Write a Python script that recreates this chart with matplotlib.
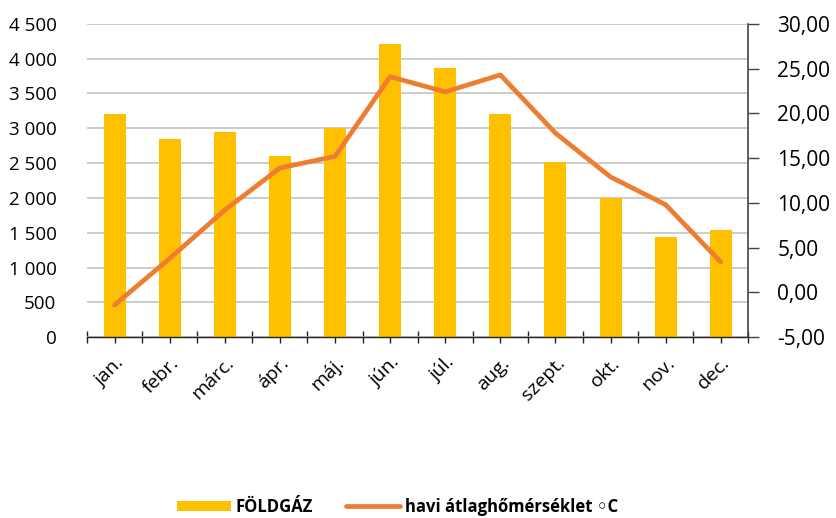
import numpy as np
import matplotlib.pyplot as plt
from matplotlib.ticker import FixedLocator, FuncFormatter, MultipleLocator
from matplotlib.lines import Line2D
from matplotlib.patches import Patch

# Havi földgázfogyasztás és átlaghőmérséklet
months = ['jan.', 'febr.', 'márc.', 'ápr.', 'máj.', 'jún.',
          'júl.', 'aug.', 'szept.', 'okt.', 'nov.', 'dec.']
gas = [3200, 2850, 2950, 2600, 3000, 4210, 3870, 3200, 2520, 2000, 1440, 1540]
temp = [-1.4, 3.8, 9.2, 13.9, 15.2, 24.1, 22.4, 24.3, 17.8, 12.9, 9.8, 3.4]

BAR_COLOR = '#FFC000'
LINE_COLOR = '#ED7D31'

plt.rcParams['font.family'] = ['Open Sans', 'DejaVu Sans']

fig = plt.figure(figsize=(8.37, 5.18), dpi=100)
ax = fig.add_axes([0.104, 0.349, 0.79, 0.605])
x = np.arange(len(months))

ax.bar(x, gas, width=0.4, color=BAR_COLOR, zorder=2)
ax.set_ylim(0, 4500)
ax.set_xlim(-0.5, len(months) - 0.5)
ax.yaxis.set_major_locator(MultipleLocator(500))
ax.yaxis.set_major_formatter(FuncFormatter(lambda v, p: f"{int(v):,}".replace(',', ' ')))
ax.grid(axis='y', color='#BFBFBF', linewidth=1.1, zorder=0)
ax.set_axisbelow(True)
ax.tick_params(axis='y', length=0, labelsize=13.5, pad=22)

# x ticks at category centres and boundaries
ax.set_xticks(x)
ax.set_xticklabels(months, rotation=45, ha='right', rotation_mode='anchor', fontsize=14)
ax.xaxis.set_minor_locator(FixedLocator(np.arange(-0.5, len(months), 1)))
ax.tick_params(axis='x', which='both', direction='inout', length=8, width=1, color='#222222', pad=8)

for s in ['left', 'top', 'right']:
    ax.spines[s].set_visible(False)
ax.spines['bottom'].set_color('#222222')
ax.spines['bottom'].set_linewidth(1)

ax2 = ax.twinx()
ax2.plot(x, temp, color=LINE_COLOR, linewidth=3.4, solid_capstyle='round',
         solid_joinstyle='round', zorder=3)
ax2.set_ylim(-5, 30)
ax2.yaxis.set_major_locator(MultipleLocator(5))
ax2.yaxis.set_major_formatter(FuncFormatter(lambda v, p: f"{v:.2f}".replace('.', ',')))
ax2.tick_params(axis='y', direction='out', length=8, width=1, color='#444444',
                labelsize=15, pad=13)
for s in ['left', 'top', 'bottom']:
    ax2.spines[s].set_visible(False)
ax2.spines['right'].set_color('#444444')
ax2.spines['right'].set_linewidth(1.2)

handles = [Patch(facecolor=BAR_COLOR, edgecolor='none'),
           Line2D([0], [0], color=LINE_COLOR, linewidth=3.4, solid_capstyle='round')]
fig.legend(handles, ['FÖLDGÁZ', 'havi átlaghőmérséklet ◦C'], loc='lower center',
           bbox_to_anchor=(0.475, -0.025), ncol=2, frameon=False,
           prop={'weight': 'bold', 'size': 12}, handlelength=3.2, columnspacing=2.0,
           handleheight=0.6, handletextpad=0.3)

fig.savefig('out.png', dpi=100)
